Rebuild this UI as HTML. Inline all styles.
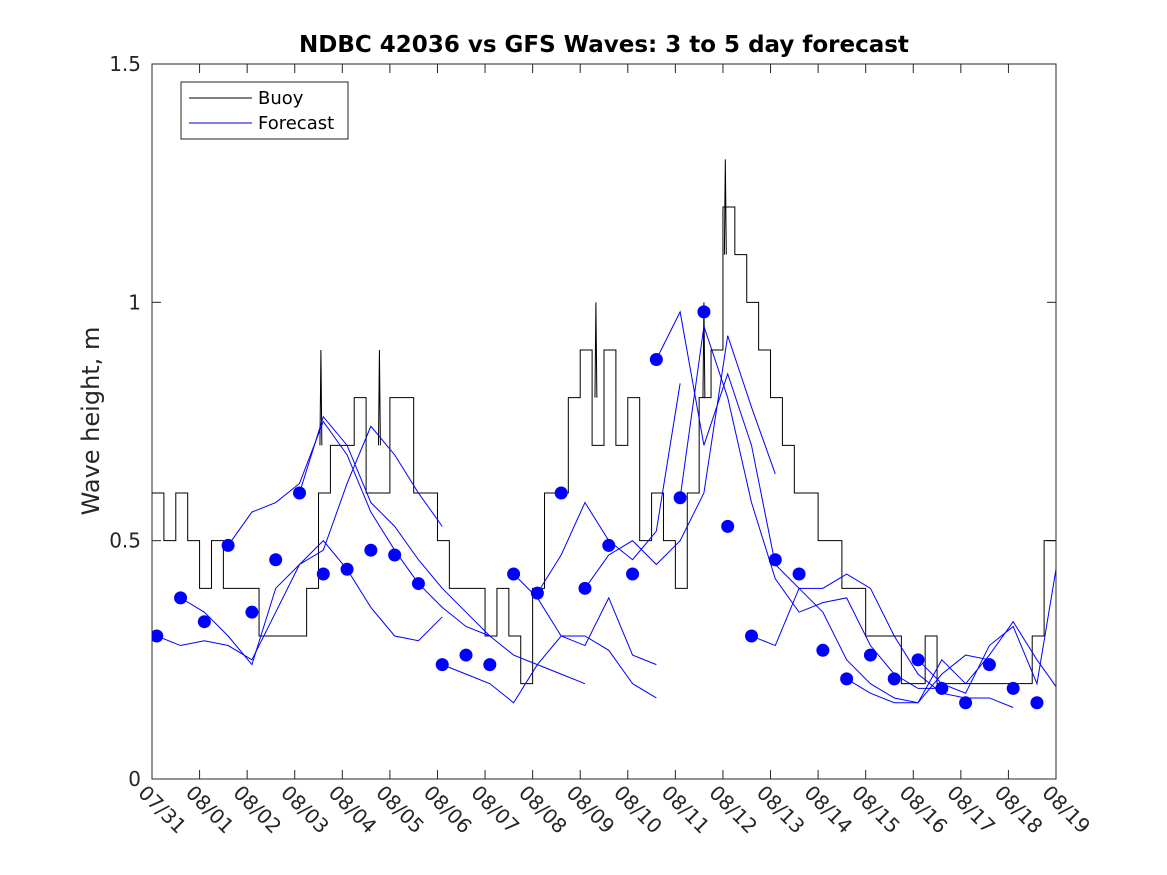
<!DOCTYPE html>
<html><head><meta charset="utf-8"><style>
body{margin:0;background:#fff;}
svg{display:block;font-family:"DejaVu Sans","Liberation Sans",sans-serif;}
</style></head><body>
<svg id="chart" width="1167" height="875"></svg>
<script>
const dateLabels=["07/31","08/01","08/02","08/03","08/04","08/05","08/06","08/07","08/08","08/09","08/10","08/11","08/12","08/13","08/14","08/15","08/16","08/17","08/18","08/19"];
const yTicks=[0,0.5,1,1.5];
const yTickLabels=["0","0.5","1","1.5"];
const buoyValues=[0.6,0.5,0.6,0.5, 0.4,0.5,0.4,0.4, 0.4,0.3,0.3,0.3, 0.3,0.4,0.6,0.7, 0.7,0.8,0.6,0.6, 0.8,0.8,0.6,0.6, 0.5,0.4,0.4,0.4, 0.3,0.4,0.3,0.2, 0.4,0.6,0.6,0.8, 0.9,0.7,0.9,0.7, 0.8,0.5,0.6,0.5, 0.4,0.6,0.8,0.9, 1.2,1.1,1.0,0.9, 0.8,0.7,0.6,0.6, 0.5,0.5,0.4,0.4, 0.3,0.3,0.3,0.2, 0.2,0.3,0.2,0.2, 0.2,0.2,0.2,0.2, 0.2,0.2,0.3,0.5];
const buoySpikeDays=[3.55,4.78,9.33,11.6,12.05];
const buoySpikeVals=[0.9,0.9,1.0,1.0,1.3];
const dotDays=[0.1,0.6,1.1,1.6,2.1,2.6,3.1,3.6,4.1,4.6,5.1,5.6,6.1,6.6,7.1,7.6,8.1,8.6,9.1,9.6,10.1,10.6,11.1,11.6,12.1,12.6,13.1,13.6,14.1,14.6,15.1,15.6,16.1,16.6,17.1,17.6,18.1,18.6];
const dotValues=[0.30,0.38,0.33,0.49,0.35,0.46,0.60,0.43,0.44,0.48,0.47,0.41,0.24,0.26,0.24,0.43,0.39,0.60,0.40,0.49,0.43,0.88,0.59,0.98,0.53,0.30,0.46,0.43,0.27,0.21,0.26,0.21,0.25,0.19,0.16,0.24,0.19,0.16];
const fcStarts=[0.1,0.6,1.6,3.1,6.1,7.6,8.1,9.1,10.6,11.1,12.6,14.6,16.1];
const fcValues=[
[0.30,0.28,0.29,0.28,0.25,0.35,0.45,0.48,0.62,0.74,0.68,0.60,0.53],
[0.38,0.35,0.30,0.24,0.40,0.45,0.50,0.44,0.36,0.30,0.29,0.34],
[0.49,0.56,0.58,0.62,0.75,0.68,0.56,0.48,0.41,0.36,0.32,0.30],
[0.60,0.76,0.70,0.58,0.53,0.46,0.40,0.35,0.30,0.26,0.24,0.22,0.20],
[0.24,0.22,0.20,0.16,0.24,0.30,0.30,0.27,0.20,0.17],
[0.43,0.38,0.30,0.28,0.38,0.26,0.24],
[0.39,0.47,0.58,0.50,0.46,0.52,0.83],
[0.40,0.47,0.50,0.45,0.50,0.60,0.93,0.78,0.64],
[0.88,0.98,0.70,0.85,0.70,0.45,0.40,0.40,0.43,0.40,0.30,0.22,0.18,0.17,0.17,0.15],
[0.59,0.95,0.80,0.58,0.42,0.35,0.37,0.38,0.28,0.22,0.19,0.19],
[0.30,0.28,0.40,0.35,0.25,0.20,0.17,0.16,0.22,0.26,0.25],
[0.21,0.18,0.16,0.16,0.25,0.20,0.26,0.33,0.25,0.18,0.46,0.33],
[0.25,0.20,0.18,0.28,0.32,0.20,0.50,0.40,0.20]];

const X0=152,X1=1056,Y0=779,Y1=64;
const xs=d=>X0+d*(X1-X0)/19;
const ys=v=>Y0-v*(Y0-Y1)/1.5;
const NS="http://www.w3.org/2000/svg";
const svg=document.getElementById('chart');
function mk(t,a,p){const e=document.createElementNS(NS,t);for(const k in a)e.setAttribute(k,a[k]);(p||svg).appendChild(e);return e;}

const bg=mk('rect',{x:X0,y:Y1,width:X1-X0,height:Y0-Y1,fill:'#fff',stroke:'#262626','stroke-width':1});



const clip=mk('clipPath',{id:'c'});mk('rect',{x:X0,y:Y1,width:X1-X0,height:Y0-Y1},clip);

dateLabels.forEach((l,i)=>{
  const x=xs(i);
  mk('line',{x1:x,y1:Y0,x2:x,y2:Y0-9,stroke:'#262626'});
  mk('line',{x1:x,y1:Y1,x2:x,y2:Y1+9,stroke:'#262626'});
  const t=mk('text',{x:0,y:0,'font-size':20,fill:'#262626',transform:`translate(${x-15},${Y0+15}) rotate(45)`});
  t.textContent=l;
  
  
});
yTicks.forEach((v,i)=>{
  const y=ys(v);
  mk('line',{x1:X0,y1:y,x2:X0+9,y2:y,stroke:'#262626'});
  mk('line',{x1:X1,y1:y,x2:X1-9,y2:y,stroke:'#262626'});
  const t=mk('text',{x:X0-11,y:y+7,'font-size':20,fill:'#262626','text-anchor':'end'});
  t.textContent=yTickLabels[i];
  
  
});

const g=mk('g',{'clip-path':'url(#c)'});
let d='';
buoyValues.forEach((v,i)=>{const x0=xs(i/4),x1=xs((i+1)/4);d+=(i?'L':'M')+x0+','+ys(v)+'L'+x1+','+ys(v);});
const bl=mk('path',{d:d,fill:'none',stroke:'#000','stroke-width':1},g);


buoySpikeDays.forEach((dd,i)=>{
  const s=mk('path',{d:`M${xs(dd-0.02)},${ys(buoySpikeVals[i]-0.2)}L${xs(dd)},${ys(buoySpikeVals[i])}L${xs(dd+0.02)},${ys(buoySpikeVals[i]-0.2)}`,fill:'none',stroke:'#000'},g);
  
  
});
fcValues.forEach((arr,k)=>{
  const p=arr.map((v,i)=>xs(fcStarts[k]+i*0.5)+','+ys(v)).join(' ');
  const l=mk('polyline',{points:p,fill:'none',stroke:'#0000ff','stroke-width':1},g);
  
  
});
dotDays.forEach((dd,i)=>{
  const c=mk('circle',{cx:xs(dd),cy:ys(dotValues[i]),r:6.5,fill:'#0000ff'},g);
  
  
});

const lg=mk('g',{});


mk('rect',{x:181,y:82,width:167,height:57,fill:'#fff',stroke:'#262626'},lg);
mk('line',{x1:189,y1:98,x2:252,y2:98,stroke:'#000'},lg);
mk('line',{x1:189,y1:123,x2:252,y2:123,stroke:'#0000cc'},lg);
const t1=mk('text',{x:258,y:104,'font-size':18,fill:'#000'},lg);t1.textContent='Buoy';


const t2=mk('text',{x:258,y:129,'font-size':18,fill:'#000'},lg);t2.textContent='Forecast';



const ti=mk('text',{x:604,y:52,'font-size':23,'font-weight':'bold','text-anchor':'middle',fill:'#000'});
ti.textContent='NDBC 42036 vs GFS Waves: 3 to 5 day forecast';


const yl=mk('text',{x:0,y:0,'font-size':24,'text-anchor':'middle',fill:'#262626',transform:`translate(99,421) rotate(-90)`});
yl.textContent='Wave height, m';


</script>
</body></html>
